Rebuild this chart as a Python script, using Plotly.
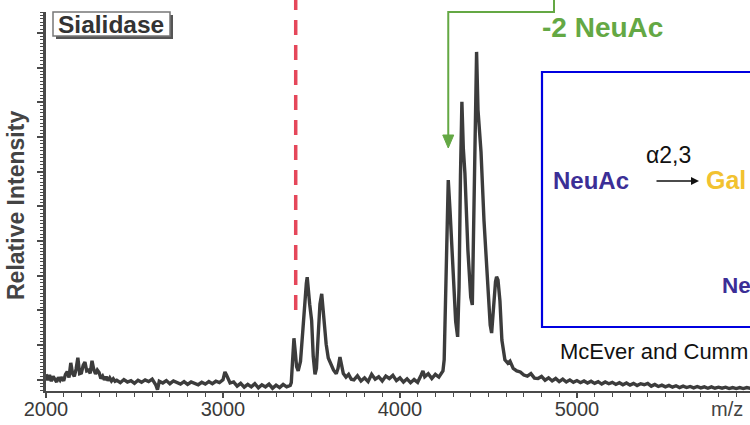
import plotly.graph_objects as go

# ---------------- data ----------------
mz_left = [2000, 2010, 2020, 2030, 2040, 2050, 2060, 2070, 2080, 2090, 2100, 2110, 2120,
           2130, 2140, 2150, 2160, 2170, 2180, 2190, 2200, 2210, 2220, 2230, 2240, 2250,
           2260, 2270, 2280, 2290, 2300, 2310, 2320, 2330, 2340, 2350, 2360, 2370, 2380, 2390]
int_left = [4.8, 3.1, 4.6, 2.8, 4.2, 3.3, 2.6, 3.9, 3.1, 4.0, 2.9, 4.8, 5.6,
            3.9, 8.1, 5.0, 4.2, 6.3, 9.6, 5.0, 5.2, 7.4, 8.3, 5.8, 6.0, 5.1,
            8.7, 6.2, 4.9, 6.0, 5.3, 3.6, 4.3, 3.2, 4.1, 3.0, 3.8, 2.9, 3.5, 2.8]

mz_mid = [2400, 2420, 2440, 2460, 2480, 2500, 2520, 2540, 2560, 2580, 2600, 2620, 2630,
          2640, 2660, 2680, 2700, 2720, 2740, 2760, 2780, 2800, 2820, 2840, 2860, 2880,
          2900, 2920, 2940, 2960, 2980, 3000, 3011, 3020, 3040, 3060, 3080, 3100, 3120,
          3140, 3160, 3180, 3200, 3220, 3240, 3260, 3280, 3300, 3320, 3340, 3360, 3380]
int_mid = [3.1, 2.4, 3.3, 2.6, 3.0, 2.2, 3.1, 2.5, 3.2, 2.7, 3.4, 1.8, 0.4,
           2.8, 2.3, 3.0, 2.1, 2.9, 2.4, 2.0, 2.7, 1.9, 2.6, 2.2, 1.8, 2.5,
           2.0, 2.7, 2.1, 2.8, 2.4, 3.2, 5.5, 4.6, 2.3, 2.6, 1.4, 2.2, 1.1,
           1.9, 1.2, 2.1, 0.9, 1.8, 1.2, 2.0, 0.8, 1.7, 1.0, 1.9, 1.2, 1.6]

mz_c1 = [3386, 3393, 3401, 3408, 3416, 3425, 3438, 3452, 3464, 3471, 3476, 3482, 3490,
         3501, 3510, 3520, 3528, 3538, 3548, 3558, 3565, 3573, 3583, 3595, 3610, 3625,
         3640, 3650, 3661, 3670, 3680, 3695, 3710, 3725]
int_c1 = [2.4, 8.5, 15.2, 11.5, 7.0, 5.8, 8.5, 18.0, 28.0, 31.0, 32.8, 29.0, 25.0,
          20.3, 10.0, 4.8, 6.5, 16.0, 25.0, 28.0, 24.0, 18.5, 13.5, 9.5, 7.5, 6.0,
          5.0, 6.5, 9.8, 7.0, 5.0, 4.0, 4.8, 3.4]

mz_flat = [3740, 3760, 3780, 3800, 3820, 3840, 3860, 3880, 3900, 3920, 3940, 3960, 3980,
           4000, 4020, 4040, 4060, 4080, 4100, 4120, 4130, 4140, 4160, 4180, 4200, 4220,
           4232]
int_flat = [3.2, 4.4, 2.9, 3.8, 2.7, 4.8, 3.4, 4.1, 2.9, 4.3, 3.6, 4.5, 3.0,
            3.8, 2.6, 3.5, 2.4, 3.3, 2.5, 4.6, 5.8, 4.1, 5.0, 3.6, 4.8, 4.0,
            5.2]

mz_c2 = [4243, 4250, 4258, 4266, 4273, 4283, 4300, 4315, 4326, 4334, 4342, 4350, 4358,
         4367, 4384, 4400, 4409, 4417, 4426, 4433, 4441, 4458, 4475, 4497, 4510, 4518,
         4531, 4540, 4546, 4554, 4565, 4576, 4593, 4610, 4622, 4640, 4660, 4680, 4700,
         4720, 4740, 4760]
int_c2 = [5.8, 9.0, 30.0, 52.0, 60.8, 52.0, 34.0, 20.0, 15.6, 30.0, 62.0, 83.3, 70.0,
          62.8, 40.6, 27.0, 24.8, 45.0, 80.0, 97.7, 81.0, 69.0, 49.0, 29.0, 19.0, 16.7,
          26.0, 31.5, 32.9, 32.0, 26.0, 14.7, 9.0, 8.0, 8.6, 6.5, 5.8, 5.5, 4.6,
          4.3, 5.0, 3.7]

mz_right = [4780, 4800, 4820, 4840, 4860, 4880, 4900, 4920, 4940, 4960, 4980, 5000, 5020,
            5040, 5060, 5080, 5100, 5120, 5140, 5160, 5180, 5200, 5220, 5240, 5260, 5280,
            5300, 5320, 5340, 5360, 5380, 5400, 5420, 5440, 5460, 5480, 5500, 5520, 5540,
            5560, 5580, 5600, 5620, 5640, 5660, 5680, 5700, 5720, 5740, 5760, 5780, 5800,
            5820, 5840, 5860, 5880, 5900, 5920, 5940, 5960, 5980]
int_right = [3.6, 4.2, 3.1, 3.8, 2.9, 3.6, 2.7, 3.4, 2.6, 3.2, 2.5, 3.0, 2.4,
             2.9, 2.3, 2.8, 2.2, 2.7, 2.0, 2.6, 2.1, 2.5, 1.9, 2.4, 1.8, 2.3,
             1.7, 2.2, 1.6, 2.1, 1.8, 2.2, 1.4, 1.9, 1.3, 1.7, 1.2, 1.6, 1.1,
             1.5, 1.0, 1.4, 1.0, 1.3, 0.9, 1.3, 0.9, 1.2, 0.8, 1.2, 0.8, 1.1,
             0.8, 1.1, 0.7, 1.0, 0.7, 1.0, 0.7, 1.0, 0.8]

mz = mz_left + mz_mid + mz_c1 + mz_flat + mz_c2 + mz_right
intensity = int_left + int_mid + int_c1 + int_flat + int_c2 + int_right

x_tick_vals = [2000, 3000, 4000, 5000]
x_tick_text = ["2000", "3000", "4000", "5000"]
dashed_mz = 3411        # red dashed marker
arrow_mz = 4273         # green arrow target

# ---------------- layout geometry ----------------
W, H = 750, 425
L, R, T, B = 46, 0, 12, 34
X_RANGE = [2000, 5978]
Y_RANGE = [0, 109.2]
PW, PH = W - L - R, H - T - B


def px(xp):
    return (xp - L) / PW


def py(yp):
    return (H - B - yp) / PH


def mzx(v):
    return (v - X_RANGE[0]) / (X_RANGE[1] - X_RANGE[0])


FONT = "Arial, Liberation Sans, sans-serif"
GREEN = "#64a844"
INDIGO = "#3b2e96"

fig = go.Figure()
fig.add_trace(go.Scatter(x=mz, y=intensity, mode="lines",
                         line=dict(color="#3c3c3c", width=3.4), hoverinfo="skip",
                         showlegend=False))

shapes = []
# Sialidase box shadow + box
shapes.append(dict(type="rect", xref="paper", yref="paper", x0=px(56), x1=px(173),
                   y0=py(39), y1=py(15), line=dict(width=0), fillcolor="#555555", layer="above"))
shapes.append(dict(type="rect", xref="paper", yref="paper", x0=px(53), x1=px(170),
                   y0=py(36), y1=py(12), line=dict(color="#777777", width=1.5),
                   fillcolor="white", layer="above"))
# red dashed line
shapes.append(dict(type="line", xref="paper", yref="paper", x0=mzx(dashed_mz), x1=mzx(dashed_mz),
                   y0=py(310), y1=py(0), line=dict(color="#e5475a", width=3.5, dash="15px,10px")))
# green bracket arrow
ax_p = mzx(arrow_mz)
shapes.append(dict(type="path", xref="paper", yref="paper",
                   path=f"M {px(554)},{py(-5)} L {px(554)},{py(12)} L {ax_p},{py(12)} L {ax_p},{py(137)}",
                   line=dict(color=GREEN, width=2)))
shapes.append(dict(type="path", xref="paper", yref="paper",
                   path=f"M {ax_p - 5.5/PW},{py(135)} L {ax_p + 5.5/PW},{py(135)} L {ax_p},{py(148)} Z",
                   line=dict(color=GREEN, width=1), fillcolor=GREEN))
# blue box
shapes.append(dict(type="rect", xref="paper", yref="paper", x0=px(542), x1=px(770),
                   y0=py(327), y1=py(72), line=dict(color="#0000e0", width=2.2)))

annotations = [
    dict(text="<b>Sialidase</b>", x=px(111), y=py(24), font=dict(size=24.5, color="#333333")),
    dict(text="<b>Relative Intensity</b>", x=px(16), y=py(206), textangle=-90,
         font=dict(size=23, color="#444444")),
    dict(text="<b>-2 NeuAc</b>", x=px(540), y=py(27), xanchor="left",
         font=dict(size=28, color=GREEN)),
    dict(text="<b>NeuAc</b>", x=px(551), y=py(180), xanchor="left",
         font=dict(size=24, color=INDIGO)),
    dict(text="α2,3", x=px(668), y=py(155), font=dict(size=23, color="#111111")),
    dict(text="<b>Gal</b>", x=px(704), y=py(180), xanchor="left",
         font=dict(size=25, color="#f2c230")),
    dict(text="<b>Ne</b>", x=px(720), y=py(285), xanchor="left",
         font=dict(size=22.5, color=INDIGO)),
    dict(text="McEver and Cumm", x=px(558), y=py(351), xanchor="left",
         font=dict(size=22, color="#111111")),
    dict(text="m/z", x=px(727), y=py(409), font=dict(size=20, color="#444444")),
    dict(text="", x=px(699), y=py(181), ax=-44, ay=0, showarrow=True, arrowhead=2,
         arrowsize=1, arrowwidth=1.6, arrowcolor="#111111", font=dict()),
]
for a in annotations:
    a.setdefault("xref", "paper")
    a.setdefault("yref", "paper")
    a.setdefault("showarrow", False)
    a.setdefault("xanchor", "center")
    a.setdefault("yanchor", "middle")
    a["font"]["family"] = FONT

fig.update_layout(
    width=W, height=H, margin=dict(l=L, r=R, t=T, b=B, pad=0),
    paper_bgcolor="white", plot_bgcolor="white",
    shapes=shapes, annotations=annotations,
    xaxis=dict(range=X_RANGE, showgrid=False, zeroline=False, showline=True,
               linecolor="#4a4a4a", linewidth=2, ticks="outside", ticklen=5,
               tickwidth=1.5, tickcolor="#4a4a4a", tickvals=x_tick_vals,
               ticktext=x_tick_text, ticklabelstandoff=-6,
               tickfont=dict(family=FONT, size=20, color="#3a3a3a"),
               minor=dict(ticks="outside", dtick=100, tick0=2000, ticklen=4,
                          tickcolor="#4a4a4a", tickwidth=1.2)),
    yaxis=dict(range=Y_RANGE, showgrid=False, zeroline=False, showline=True,
               linecolor="#4a4a4a", linewidth=2.5, ticks="outside", ticklen=6,
               tickwidth=1.5, tickcolor="#4a4a4a", tick0=3.2, dtick=10,
               showticklabels=False,
               minor=dict(ticks="outside", dtick=1, tick0=0.2, ticklen=3,
                          tickcolor="#4a4a4a", tickwidth=1)),
)

fig.write_html("out.html")
